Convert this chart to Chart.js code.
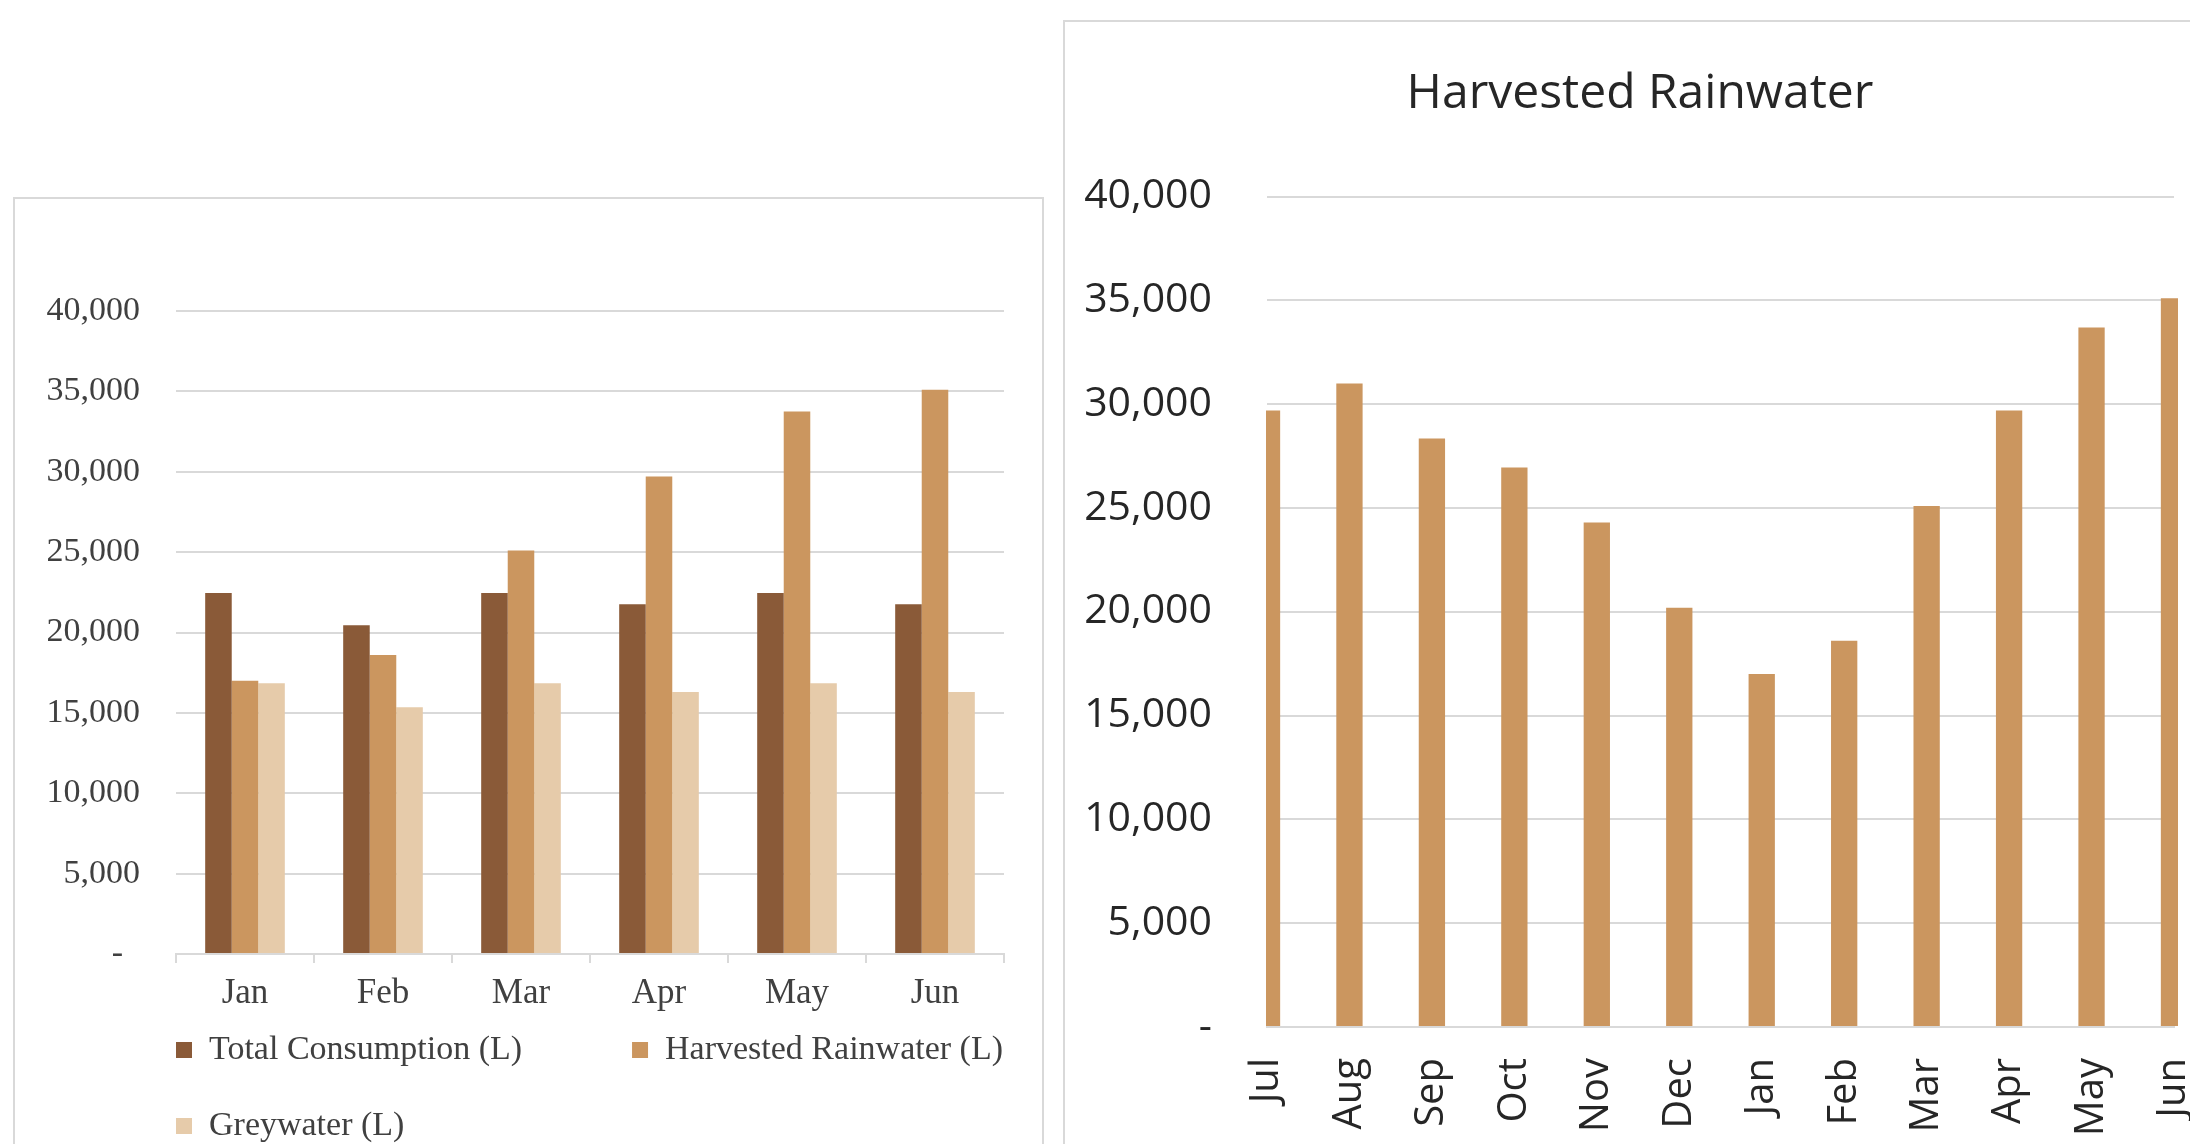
<!DOCTYPE html>
<html><head><meta charset="utf-8">
<script src="https://cdn.jsdelivr.net/npm/chart.js@4.4.1/dist/chart.umd.min.js"></script>
<style>
html,body{margin:0;padding:0;background:#fff;width:2190px;height:1144px;overflow:hidden;position:relative;}
.frame{position:absolute;border:2px solid #d9d9d9;box-sizing:border-box;}
canvas{position:absolute;}
</style></head><body>
<div class="frame" style="left:13px;top:197px;width:1031px;height:1000px"></div>
<div class="frame" style="left:1063px;top:20px;width:1300px;height:1300px"></div>
<canvas id="c1" width="1050" height="978" style="left:14px;top:198px"></canvas>
<canvas id="c2" width="1228" height="1150" style="left:1026px;top:21px"></canvas>
<script>
// ---- data: left chart (Jan-Jun) ----
const halfYearMonths = ['Jan','Feb','Mar','Apr','May','Jun'];
const totalConsumption = [22450, 20450, 22450, 21750, 22450, 21750];
const harvestedRainwater = [17000, 18600, 25100, 29700, 33750, 35100];
const greywater = [16850, 15350, 16850, 16300, 16850, 16300];
const seriesNames = ['Total Consumption (L)', 'Harvested Rainwater (L)', 'Greywater (L)'];

// ---- data: right chart (Jul-Jun) ----
const fullYearMonths = ['Jul','Aug','Sep','Oct','Nov','Dec','Jan','Feb','Mar','Apr','May','Jun'];
const annualRainwater = [29700, 31000, 28350, 26950, 24300, 20200, 17000, 18600, 25100, 29700, 33700, 35100];
const rightTitle = 'Harvested Rainwater';

// ---- axis ----
const axisMin = 0, axisMax = 40000, axisStep = 5000;

const serif = '"Liberation Serif", "Times New Roman", serif';
const sans = '"Open Sans", "Noto Sans", sans-serif';
const gridCol = '#d9d9d9';

function padLabel(text, target, font) {
  const ctx = document.createElement('canvas').getContext('2d');
  ctx.font = font;
  let t = text;
  while (ctx.measureText(t).width < target) t += ' ';
  return t;
}

// places the legend box (Excel-like legend block under the plot)
const legendPlacer = {
  id: 'legendPlacer',
  afterLayout(chart, args, opts) {
    const lg = chart.legend;
    if (!lg) return;
    lg.left = opts.left;
    lg.width = lg.right - lg.left;
    const h = lg.height;
    lg.top = opts.top;
    lg.bottom = opts.top + h;
  }
};

new Chart(document.getElementById('c1'), {
  type: 'bar',
  plugins: [legendPlacer],
  data: {
    labels: halfYearMonths,
    datasets: [
      {label: seriesNames[0], data: totalConsumption, backgroundColor: '#8A5A38', borderWidth: 0},
      {label: seriesNames[1], data: harvestedRainwater, backgroundColor: '#CB965F', borderWidth: 0},
      {label: seriesNames[2], data: greywater, backgroundColor: '#E6CBAA', borderWidth: 0}
    ]
  },
  options: {
    responsive: false, animation: false, devicePixelRatio: 1,
    layout: {padding: {left: 0, top: 113, right: 0, bottom: 0}},
    datasets: {bar: {categoryPercentage: 0.577, barPercentage: 1}},
    plugins: {
      tooltip: {enabled: false},
      legendPlacer: {left: 120, top: 793},
      legend: {
        position: 'bottom', align: 'start',
        labels: {
          font: {family: serif, size: 34}, color: '#404040',
          boxWidth: 16, boxHeight: 16, padding: 42,
          generateLabels(chart) {
            const items = Chart.defaults.plugins.legend.labels.generateLabels(chart);
            items[0].text = padLabel(items[0].text, 380, '34px ' + serif);
            return items;
          }
        }
      }
    },
    scales: {
      x: {
        grid: {display: true, drawOnChartArea: false, drawTicks: true, tickLength: 9, color: gridCol, lineWidth: 2},
        border: {display: true, color: gridCol, width: 2},
        ticks: {font: {family: serif, size: 35}, color: '#404040', padding: 10},
        afterFit(s) { s.height = 60; }
      },
      y: {
        min: axisMin, max: axisMax,
        ticks: {stepSize: axisStep, font: {family: serif, size: 34}, color: '#404040', padding: 36,
          callback: v => v === 0 ? '-  ' : v.toLocaleString('en-US')},
        grid: {color: gridCol, lineWidth: 2, drawTicks: false},
        border: {display: false},
        afterFit(s) { s.width = 162; }
      },
      yR: {
        position: 'right', grid: {display: false}, border: {display: false}, ticks: {display: false},
        afterFit(s) { s.width = 60; }
      }
    }
  }
});

new Chart(document.getElementById('c2'), {
  type: 'bar',
  data: {
    labels: fullYearMonths,
    datasets: [
      {label: seriesNames[1], data: annualRainwater, backgroundColor: '#CB965F', borderWidth: 0,
       clip: {left: 1, right: 4, top: 10, bottom: 0}}
    ]
  },
  options: {
    responsive: false, animation: false, devicePixelRatio: 1,
    layout: {padding: 0},
    datasets: {bar: {categoryPercentage: 0.319, barPercentage: 1}},
    plugins: {
      tooltip: {enabled: false},
      legend: {display: false},
      title: {display: true, text: rightTitle, font: {family: sans, size: 48, weight: 'normal'},
        color: '#262626', padding: {top: 45, bottom: 73}}
    },
    scales: {
      x: {
        offset: false,
        grid: {display: false},
        border: {display: true, color: gridCol, width: 2},
        ticks: {autoSkip: false, minRotation: 90, maxRotation: 90, font: {family: sans, size: 40}, color: '#262626', padding: 23},
        afterFit(s) { s.height = 144; }
      },
      y: {
        min: axisMin, max: axisMax,
        ticks: {stepSize: axisStep, font: {family: sans, size: 41}, color: '#262626', padding: 55,
          callback: v => v === 0 ? '-' : v.toLocaleString('en-US')},
        grid: {color: gridCol, lineWidth: 2, drawTicks: false},
        border: {display: false},
        afterFit(s) { s.width = 241; }
      },
      yR: {
        position: 'right', grid: {display: false}, border: {display: false}, ticks: {display: false},
        afterFit(s) { s.width = 80; }
      }
    }
  }
});
</script>
</body></html>
